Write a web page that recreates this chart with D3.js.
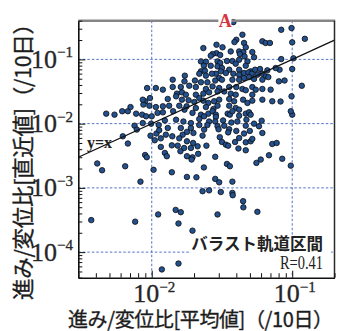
<!DOCTYPE html>
<html>
<head>
<meta charset="utf-8">
<script src="https://cdn.jsdelivr.net/npm/d3@7"></script>
<style>
  body { margin: 0; background: #fff; }
  svg { display: block; }
</style>
</head>
<body>
<svg id="chart" width="346" height="331"></svg>
<script>
// Advance / displacement ratio per 10 days: long-term average (x) vs. most recent (y)
const avgRatio = [
  0.0381, 0.0835, 0.0989, 0.0442, 0.123, 0.0400, 0.0388, 0.100, 0.0613, 0.0647,
  0.0694, 0.0454, 0.0289, 0.0319, 0.0233, 0.0467, 0.0365, 0.0419, 0.0449, 0.0520,
  0.0289, 0.0271, 0.0263, 0.0307, 0.0424, 0.0458, 0.0835, 0.102, 0.0535, 0.0224,
  0.0243, 0.0294, 0.0307, 0.0343, 0.0375, 0.0396, 0.0480, 0.0419, 0.0813, 0.100,
  0.0235, 0.0263, 0.0294, 0.0316, 0.0356, 0.0419, 0.0467, 0.0506, 0.0544, 0.0590,
  0.0665, 0.0762, 0.0224, 0.0239, 0.0310, 0.0286, 0.0337, 0.0381, 0.0419, 0.0454,
  0.0488, 0.0515, 0.0565, 0.0613, 0.0647, 0.0172, 0.0218, 0.0243, 0.0268, 0.0302,
  0.0141, 0.0171, 0.0203, 0.0224, 0.0249, 0.0283, 0.0316, 0.0375, 0.0419, 0.0454,
  0.0493, 0.0535, 0.0613, 0.0676, 0.0804, 0.0882, 0.0141, 0.0161, 0.0185, 0.0206,
  0.0243, 0.0271, 0.0302, 0.0356, 0.0400, 0.0442, 0.0520, 0.0550, 0.0613, 0.0702,
  0.117, 0.00927, 0.0107, 0.0120, 0.0151, 0.0164, 0.0175, 0.0206, 0.0233, 0.0256,
  0.0294, 0.0328, 0.0365, 0.0396, 0.0467, 0.0520, 0.0989, 0.00897, 0.0130, 0.0149,
  0.0164, 0.0183, 0.0201, 0.0218, 0.0233, 0.0253, 0.0278, 0.0302, 0.0356, 0.0386,
  0.0447, 0.0480, 0.0520, 0.0613, 0.0721, 0.0826, 0.00872, 0.00962, 0.0107, 0.0120,
  0.0133, 0.0157, 0.0177, 0.0206, 0.0243, 0.0275, 0.0294, 0.0356, 0.0396, 0.0419,
  0.100, 0.00972, 0.00863, 0.00474, 0.00543, 0.00616, 0.00676, 0.00706, 0.00774, 0.00854,
  0.00912, 0.0100, 0.0110, 0.0120, 0.0142, 0.0171, 0.0195, 0.0224, 0.0236, 0.0253,
  0.0271, 0.0286, 0.0286, 0.0347, 0.0360, 0.0375, 0.0419, 0.0467, 0.0493, 0.0506,
  0.0977, 0.0124, 0.0149, 0.0168, 0.0190, 0.0218, 0.0256, 0.0283, 0.0322, 0.0369,
  0.0407, 0.0472, 0.0535, 0.0606, 0.00754, 0.00863, 0.00990, 0.0112, 0.0130, 0.0161,
  0.0190, 0.0218, 0.0249, 0.0236, 0.0294, 0.0299, 0.0328, 0.0356, 0.0467, 0.0580,
  0.00622, 0.00676, 0.00783, 0.00980, 0.0108, 0.0113, 0.0126, 0.0166, 0.0178, 0.0198,
  0.0230, 0.0305, 0.0350, 0.0400, 0.0454, 0.0499, 0.0613, 0.0105, 0.0116, 0.0140,
  0.0157, 0.0178, 0.0197, 0.0245, 0.0316, 0.0337, 0.0350, 0.0392, 0.0419, 0.0467,
  0.0506, 0.0520, 0.0721, 0.0775, 0.0139, 0.0153, 0.0170, 0.0190, 0.0212, 0.00897,
  0.00922, 0.0103, 0.00409, 0.00443, 0.00647, 0.00831, 0.0124, 0.0128, 0.0139, 0.0160,
  0.0178, 0.0195, 0.0192, 0.0214, 0.0283, 0.0343, 0.0360, 0.0414, 0.0467, 0.0556,
  0.0597, 0.0683, 0.0849, 0.0977, 0.0235, 0.0116, 0.0283, 0.0302, 0.0375, 0.0208,
  0.0178, 0.0230, 0.0256, 0.0310, 0.0375, 0.0377, 0.0447, 0.0449, 0.0565, 0.0148,
  0.0161, 0.0155, 0.0294, 0.0195, 0.0111, 0.00762, 0.00371, 0.0118, 0.0155
];
const recentRatio = [
  0.380, 0.289, 0.307, 0.242, 0.209, 0.202, 0.186, 0.184, 0.191, 0.180,
  0.180, 0.180, 0.169, 0.154, 0.150, 0.154, 0.133, 0.133, 0.130, 0.130,
  0.125, 0.121, 0.114, 0.117, 0.121, 0.111, 0.101, 0.104, 0.108, 0.0931,
  0.0920, 0.0931, 0.0877, 0.0943, 0.0943, 0.0857, 0.0931, 0.0988, 0.0691, 0.0708,
  0.0797, 0.0797, 0.0778, 0.0733, 0.0691, 0.0691, 0.0797, 0.0651, 0.0691, 0.0708,
  0.0675, 0.0733, 0.0651, 0.0666, 0.0651, 0.0598, 0.0613, 0.0598, 0.0578, 0.0613,
  0.0627, 0.0598, 0.0578, 0.0598, 0.0544, 0.0558, 0.0598, 0.0558, 0.0598, 0.0513,
  0.0483, 0.0455, 0.0469, 0.0440, 0.0440, 0.0469, 0.0483, 0.0483, 0.0483, 0.0513,
  0.0530, 0.0495, 0.0483, 0.0530, 0.0455, 0.0469, 0.0372, 0.0372, 0.0389, 0.0371,
  0.0346, 0.0380, 0.0358, 0.0372, 0.0371, 0.0346, 0.0371, 0.0338, 0.0346, 0.0338,
  0.0388, 0.0358, 0.0358, 0.0338, 0.0293, 0.0307, 0.0282, 0.0282, 0.0293, 0.0307,
  0.0317, 0.0317, 0.0293, 0.0282, 0.0331, 0.0282, 0.0266, 0.0223, 0.0242, 0.0266,
  0.0236, 0.0231, 0.0217, 0.0250, 0.0228, 0.0210, 0.0223, 0.0236, 0.0242, 0.0223,
  0.0236, 0.0210, 0.0228, 0.0236, 0.0223, 0.0221, 0.0198, 0.0190, 0.0181, 0.0186,
  0.0190, 0.0190, 0.0186, 0.0175, 0.0181, 0.0169, 0.0190, 0.0190, 0.0175, 0.0165,
  0.0138, 0.0250, 0.0236, 0.0143, 0.0138, 0.0156, 0.0156, 0.0181, 0.0143, 0.0138,
  0.0130, 0.0130, 0.0147, 0.0150, 0.0156, 0.0165, 0.0147, 0.0138, 0.0130, 0.0143,
  0.0156, 0.0138, 0.0127, 0.0143, 0.0138, 0.0156, 0.0133, 0.0143, 0.0150, 0.0138,
  0.0156, 0.0112, 0.0115, 0.0108, 0.0102, 0.0118, 0.0108, 0.0108, 0.0112, 0.0104,
  0.0108, 0.0115, 0.0100, 0.0111, 0.00929, 0.0102, 0.0100, 0.00951, 0.00856, 0.00856,
  0.00856, 0.00951, 0.00951, 0.00807, 0.00910, 0.00817, 0.00929, 0.00817, 0.00929, 0.00910,
  0.00635, 0.00490, 0.00807, 0.00650, 0.00701, 0.00790, 0.00673, 0.00673, 0.00744, 0.00716,
  0.00650, 0.00616, 0.00731, 0.00770, 0.00701, 0.00770, 0.00716, 0.00551, 0.00590, 0.00635,
  0.00590, 0.00531, 0.00500, 0.00454, 0.00518, 0.00471, 0.00454, 0.00518, 0.00597, 0.00512,
  0.00531, 0.00578, 0.00483, 0.00500, 0.00459, 0.00454, 0.00418, 0.00418, 0.00444, 0.00325,
  0.00300, 0.00191, 0.00240, 0.00188, 0.00217, 0.00125, 0.00350, 0.00311, 0.00175, 0.00372,
  0.00311, 0.00299, 0.00276, 0.00339, 0.00305, 0.00236, 0.00217, 0.00410, 0.00385, 0.00245,
  0.00276, 0.00322, 0.00284, 0.00222, 0.00208, 0.00434, 0.00138, 0.00122, 0.00125, 0.00146,
  0.00148, 0.000888, 0.000915, 0.000862, 0.000836, 0.000768, 0.000621, 0.000498, 0.000424, 0.000454,
  0.000418, 0.000279, 0.000386, 0.000216, 0.000386, 0.000298, 0.000315, 0.0000538, 0.0000664
];

// Index of the highlighted section "A"
const highlightIndex = 0;
const highlightLabel = "A";

// Axes
const xDomain = [0.003, 0.2];
const yDomain = [0.00004, 0.4];
const xMajorTicks = [1e-2, 1e-1];
const yMajorTicks = [1e-4, 1e-3, 1e-2, 1e-1];

// Texts
const xTitle = "進み/変位比[平均値]（/10日）";
const yTitle = "進み/変位比[直近値]（/10日）";
const refLineLabel = "y=x";
const sectionLabel = "バラスト軌道区間";
const corrLabel = "R=0.41";

const svg = d3.select("#chart");
const plotLeft = 78.3, plotRight = 334.5, plotTop = 20.7, plotBottom = 277.7;

const x = d3.scaleLog().domain(xDomain).range([plotLeft, plotRight]);
const y = d3.scaleLog().domain(yDomain).range([plotBottom, plotTop]);

const SERIF = "'Liberation Serif', 'DejaVu Serif', serif";
const CJK = "'Noto Sans CJK JP', 'Noto Sans CJK SC', sans-serif";
const INK = "#1c1c1c";
const isMajor = d => Math.abs(Math.log10(d) - Math.round(Math.log10(d))) < 1e-6;

// Grid lines at whole decades
const grid = svg.append("g")
  .attr("stroke", "#5275c8")
  .attr("stroke-width", 1)
  .attr("stroke-dasharray", "2.5,2");
grid.selectAll("line.gx").data(xMajorTicks).join("line")
  .attr("x1", d => x(d)).attr("x2", d => x(d))
  .attr("y1", plotTop).attr("y2", plotBottom);
grid.selectAll("line.gy").data(yMajorTicks).join("line")
  .attr("x1", plotLeft).attr("x2", plotRight)
  .attr("y1", d => y(d)).attr("y2", d => y(d));

// White panel behind the section label
svg.append("rect")
  .attr("x", 191).attr("y", 238)
  .attr("width", 140).attr("height", 34)
  .attr("fill", "#fff");

// Scatter points
const points = avgRatio.map((v, i) => ({ x: v, y: recentRatio[i] }));
svg.append("g")
  .selectAll("circle").data(points).join("circle")
  .attr("cx", d => x(d.x))
  .attr("cy", d => y(d.y))
  .attr("r", 2.75)
  .attr("fill", "#23508f")
  .attr("stroke", "#0d0d0d")
  .attr("stroke-width", 0.8);

// Reference line y = x
const lineX = x.domain();
svg.append("path")
  .datum(lineX.map(v => [v, v]))
  .attr("d", d3.line().x(d => x(d[0])).y(d => y(d[1])))
  .attr("stroke", "#111")
  .attr("stroke-width", 1.3)
  .attr("fill", "none");

svg.append("text")
  .attr("x", 87).attr("y", 147.5)
  .attr("font-family", SERIF)
  .attr("font-size", 16)
  .attr("font-weight", "bold")
  .attr("fill", "#222")
  .text(refLineLabel);

// Frame: top and right edges
svg.append("line")
  .attr("x1", plotLeft).attr("x2", plotRight + 0.7)
  .attr("y1", plotTop).attr("y2", plotTop)
  .attr("stroke", "#858585").attr("stroke-width", 2.4);
svg.append("line")
  .attr("x1", plotRight).attr("x2", plotRight)
  .attr("y1", plotTop).attr("y2", plotBottom)
  .attr("stroke", "#2a2a2a").attr("stroke-width", 1.5);

// Axes with inward ticks
const xAxis = svg.append("g")
  .attr("transform", `translate(0,${plotBottom})`)
  .call(d3.axisBottom(x).tickValues(x.ticks()).tickSize(-4.5).tickSizeOuter(0).tickFormat(""));
const yAxis = svg.append("g")
  .attr("transform", `translate(${plotLeft},0)`)
  .call(d3.axisLeft(y).tickValues(y.ticks()).tickSize(-4).tickSizeOuter(0).tickFormat(""));
[xAxis, yAxis].forEach(g => {
  g.select(".domain").attr("stroke", "#111").attr("stroke-width", 1.6);
  g.selectAll(".tick line").attr("stroke", "#111").attr("stroke-width", 1);
});
xAxis.selectAll(".tick").filter(isMajor).select("line").attr("y2", -7);
yAxis.selectAll(".tick").filter(isMajor).select("line").attr("x2", 7);

// Power-of-ten tick labels
function powerLabel(sel, d) {
  const e = Math.round(Math.log10(d));
  sel.append("tspan").attr("font-size", 26).text("10");
  sel.append("tspan").attr("font-size", 15).attr("dy", -10.5)
    .text((e < 0 ? "\u2212" : "") + Math.abs(e));
}
svg.append("g").selectAll("text").data(xMajorTicks).join("text")
  .attr("x", d => x(d) + 2.5)
  .attr("y", 302)
  .attr("text-anchor", "middle")
  .attr("font-family", SERIF)
  .attr("fill", "#262626")
  .attr("stroke", "#262626").attr("stroke-width", 0.3)
  .each(function (d) { powerLabel(d3.select(this), d); });
svg.append("g").selectAll("text").data(yMajorTicks).join("text")
  .attr("x", 73)
  .attr("y", d => y(d) + 8.5)
  .attr("text-anchor", "end")
  .attr("font-family", SERIF)
  .attr("fill", "#262626")
  .attr("stroke", "#262626").attr("stroke-width", 0.3)
  .each(function (d) { powerLabel(d3.select(this), d); });

// Axis titles
svg.append("text")
  .attr("x", 200.5).attr("y", 326.5)
  .attr("text-anchor", "middle")
  .attr("font-family", CJK)
  .attr("font-size", 20)
  .attr("textLength", 265)
  .attr("lengthAdjust", "spacing")
  .attr("fill", INK)
  .attr("stroke", INK).attr("stroke-width", 0.35)
  .text(xTitle);
svg.append("text")
  .attr("transform", "translate(30.5,156.5) rotate(-90)")
  .attr("text-anchor", "middle")
  .attr("font-family", CJK)
  .attr("font-size", 21.5)
  .attr("textLength", 287)
  .attr("lengthAdjust", "spacing")
  .attr("fill", INK)
  .attr("stroke", INK).attr("stroke-width", 0.35)
  .text(yTitle);

// Section label and correlation
svg.append("text")
  .attr("x", 323).attr("y", 249.5)
  .attr("text-anchor", "end")
  .attr("font-family", CJK)
  .attr("font-size", 16.5)
  .attr("font-weight", "bold")
  .attr("fill", "#222")
  .text(sectionLabel);
svg.append("text")
  .attr("x", 323).attr("y", 268.5)
  .attr("text-anchor", "end")
  .attr("font-family", SERIF)
  .attr("font-size", 18)
  .attr("fill", "#222")
  .attr("textLength", 43)
  .attr("lengthAdjust", "spacingAndGlyphs")
  .text(corrLabel);

// Highlighted point label
const hp = points[highlightIndex];
svg.append("rect")
  .attr("x", x(hp.x) - 15).attr("y", plotTop - 3)
  .attr("width", 13).attr("height", 7)
  .attr("fill", "#fff");
svg.append("text")
  .attr("x", x(hp.x) - 8).attr("y", 26.5)
  .attr("text-anchor", "middle")
  .attr("font-family", SERIF)
  .attr("font-size", 18)
  .attr("font-weight", "bold")
  .attr("fill", "#d7343f")
  .text(highlightLabel);
</script>
</body>
</html>
